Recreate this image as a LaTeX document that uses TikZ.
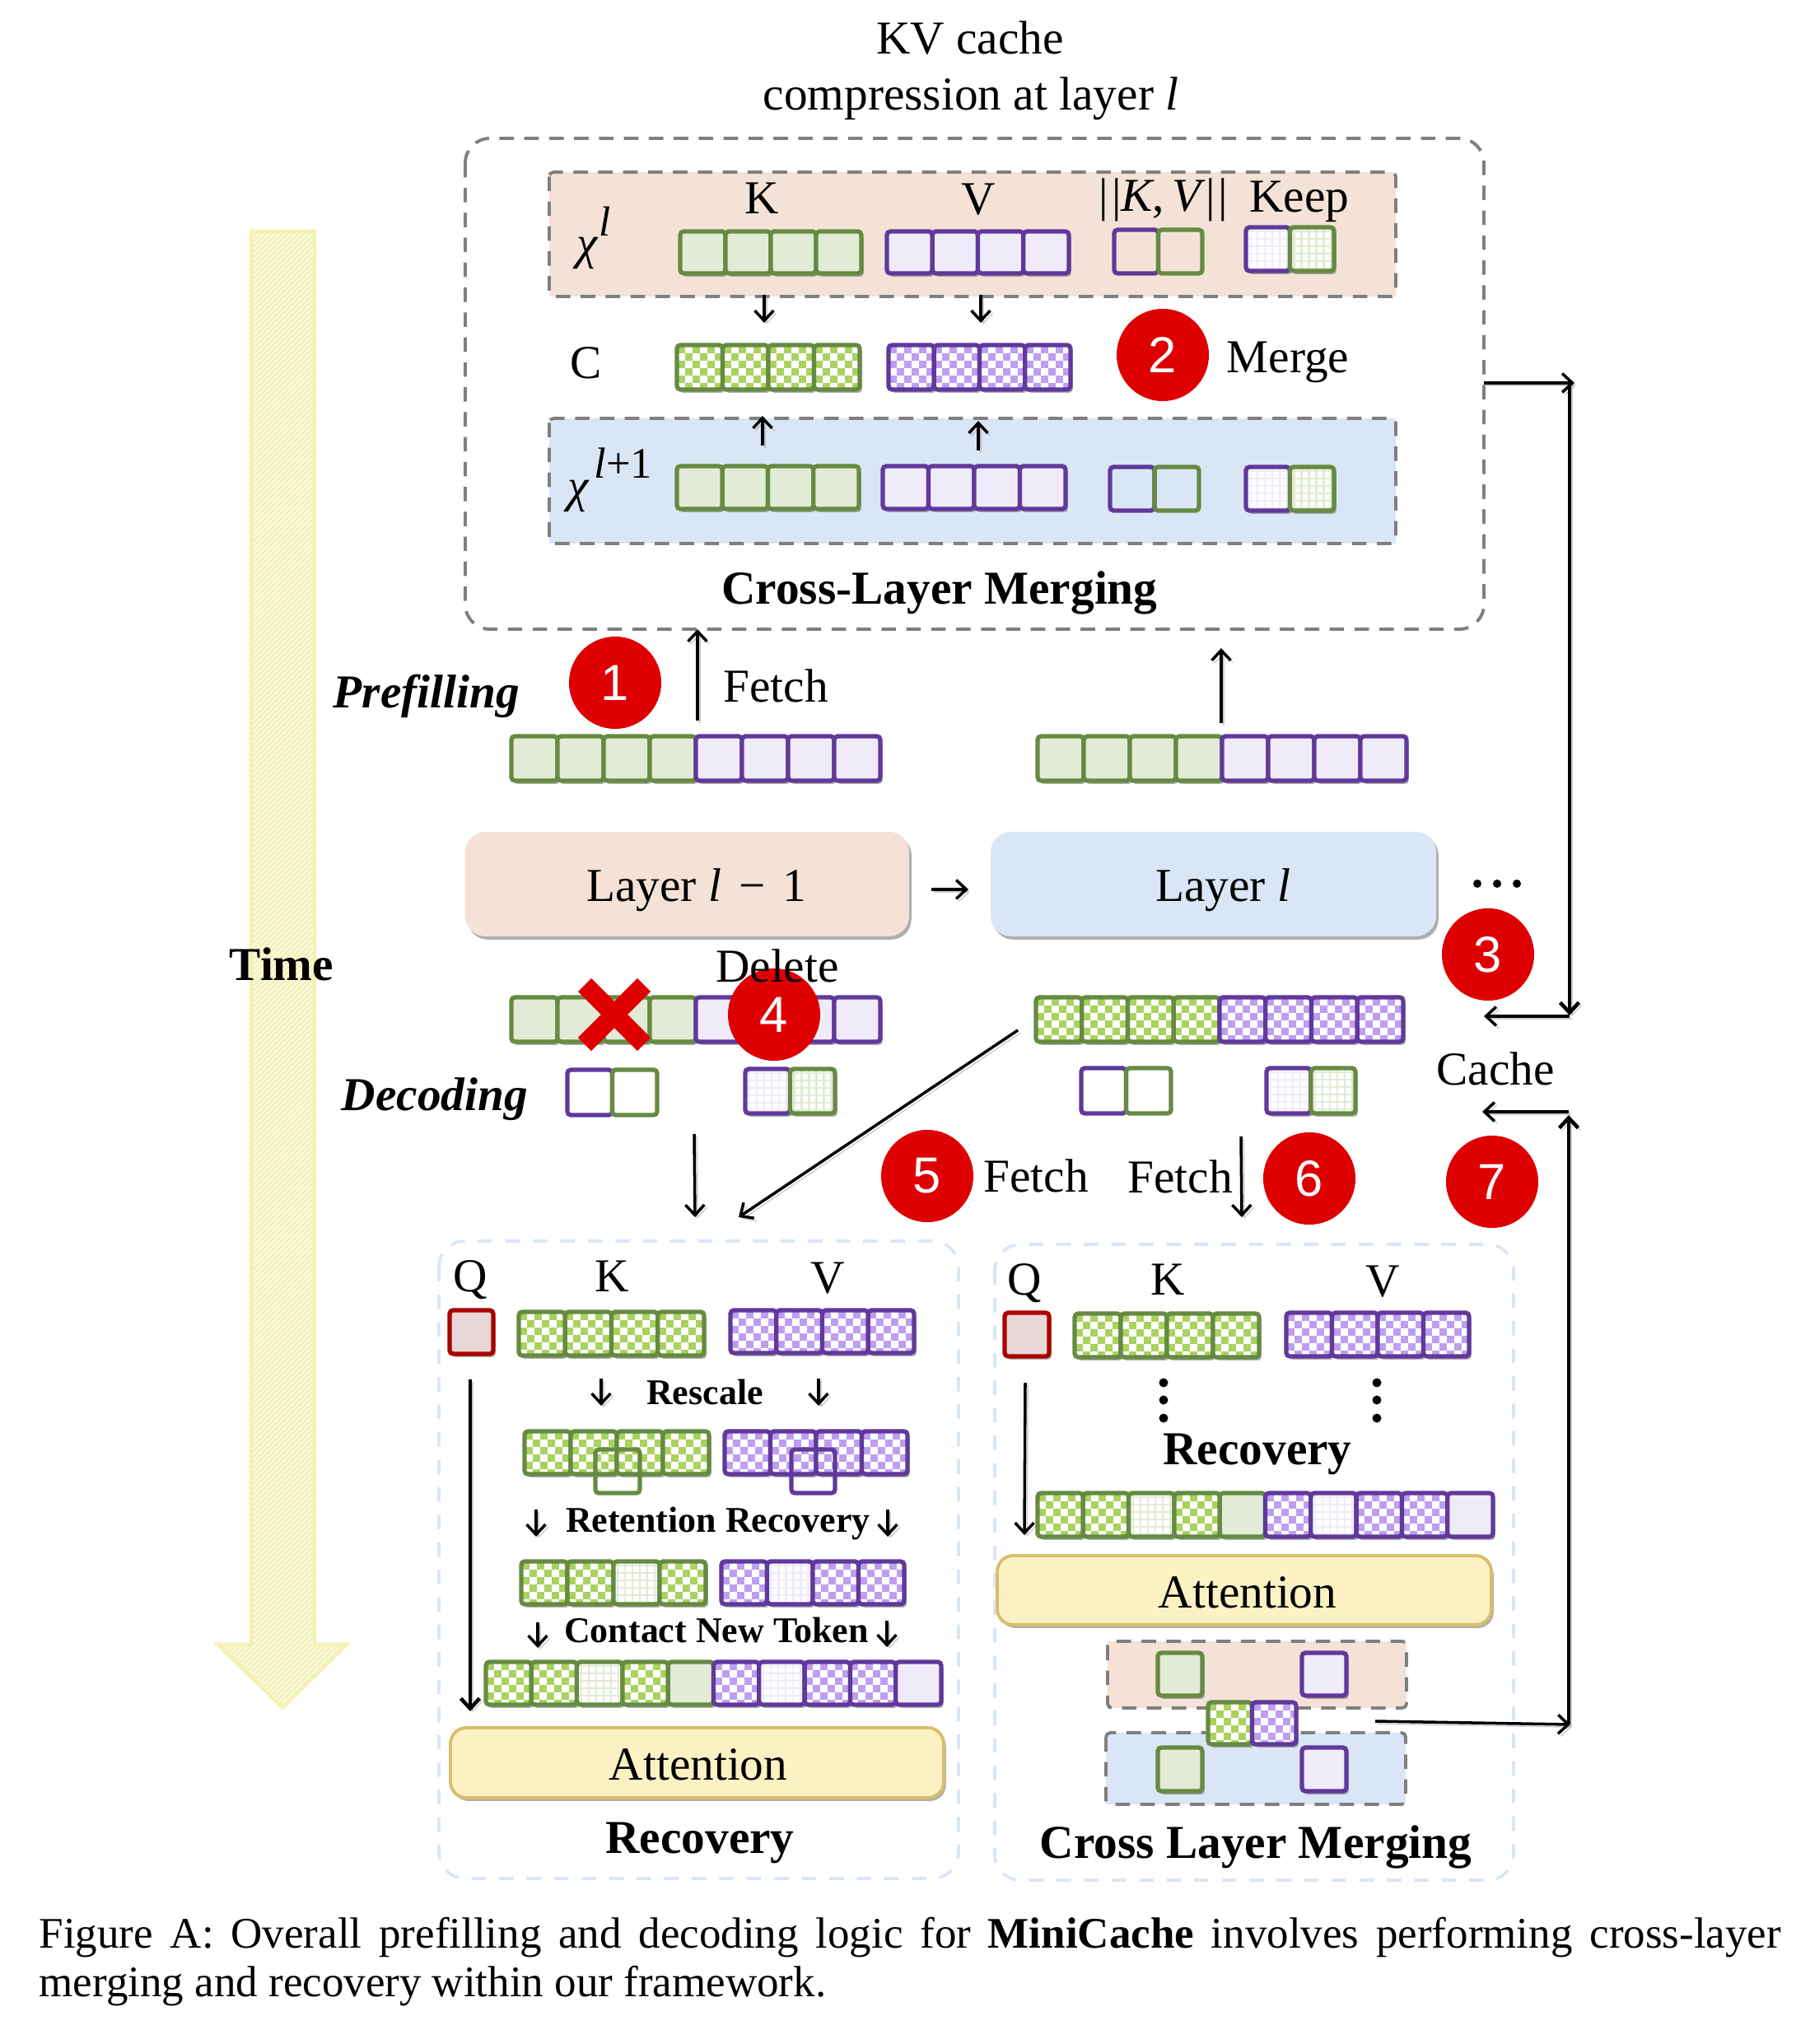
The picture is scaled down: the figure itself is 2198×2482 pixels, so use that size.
\documentclass[tikz,border=0pt]{standalone}
\usepackage{fontspec}
\setmainfont{Liberation Serif}
\newfontfamily\digitfont{Liberation Sans}
\usetikzlibrary{arrows.meta,shadows}
\definecolor{gb}{HTML}{668A42}\definecolor{gf}{HTML}{E2EBD5}\definecolor{gc}{HTML}{A9D25F}
\definecolor{pb}{HTML}{60399B}\definecolor{pf}{HTML}{F0EBF9}\definecolor{pc}{HTML}{BE9EF0}
\definecolor{rb}{HTML}{AA0000}\definecolor{rf}{HTML}{E9D6D6}
\definecolor{peach}{HTML}{F4E2D7}\definecolor{skyb}{HTML}{DAE6F5}
\definecolor{attf}{HTML}{FCF1C3}\definecolor{attb}{HTML}{D7BE6C}
\definecolor{dashg}{HTML}{7F7F7F}\definecolor{dashb}{HTML}{DAE6F5}
\definecolor{timec}{HTML}{F3F2B5}\definecolor{badge}{HTML}{DE0000}
\tikzset{
 x=0.01cm,y=-0.01cm,
 softshadow/.style={drop shadow={shadow xshift=0.8pt,shadow yshift=-1.1pt,opacity=.45,fill=black!70}},
 conn/.style={draw=black,line width=1pt,-{Straight Barb[length=3.5pt,width=6.5pt]},
   preaction={draw=gray,opacity=.4,transform canvas={shift={(0.9pt,-0.9pt)}}}},
 bigdash/.style={draw=dashg,line width=1.1pt,dash pattern=on 5pt off 3.6pt},
 lightdash/.style={draw=dashb,line width=1.05pt,dash pattern=on 5pt off 4.5pt,rounded corners=9pt},
 layerbox/.style={fill=#1,rounded corners=7pt,softshadow},
 attbox/.style={fill=attf,draw=attb,line width=1.1pt,rounded corners=5.5pt,softshadow},
 badgec/.style={circle,fill=badge,text=white,minimum size=1.12cm,inner sep=0pt,font=\digitfont\fontsize{17.5}{20}\selectfont},
 lbl/.style={inner sep=0pt,font=\fontsize{16.3}{19}\selectfont},
 blbl/.style={inner sep=0pt,font=\bfseries\fontsize{16.3}{19}\selectfont},
 slbl/.style={inner sep=0pt,font=\bfseries\fontsize{12.5}{15}\selectfont},
 ilbl/.style={inner sep=0pt,font=\bfseries\itshape\fontsize{16.3}{19}\selectfont},
}
\newcommand\patf[4]{\fill[\kc f] (#1,#2) rectangle (#3,#4);}
\newcommand\patn[4]{}
\newcommand\patc[4]{%
 \begin{scope}\clip (#1,#2) rectangle (#3,#4);
 \fill[white] (#1,#2) rectangle (#3,#4);
 \foreach \ii in {0,...,6}{\foreach \jj in {0,...,6}{%
  \pgfmathtruncatemacro\mm{mod(\ii+\jj,2)}%
  \ifnum\mm=0 \fill[\kc c] ({#1+1+\ii*9},{#2+1+\jj*9}) rectangle +(9,9);\fi}}
 \end{scope}}
\newcommand\patg[4]{%
 \begin{scope}\clip (#1,#2) rectangle (#3,#4);
 \fill[white] (#1,#2) rectangle (#3,#4);
 \foreach \ii in {0,...,6}{\draw[\kc f,line width=0.6pt] ({#1+5+\ii*9},#2) -- ({#1+5+\ii*9},#4);
   \draw[\kc f,line width=0.6pt] (#1,{#2+5+\ii*9}) -- (#3,{#2+5+\ii*9});}
 \end{scope}}
% cell: x0 y0 x1 y1 colourkey pattern
\newcommand\tcell[6]{%
 \def\kc{#5}%
 \path[fill=white,rounded corners=1.2pt,softshadow] (#1,#2) rectangle (#3,#4);
 \csname pat#6\endcsname{#1}{#2}{#3}{#4}%
 \draw[draw=#5b,line width=1.5pt,rounded corners=1.2pt] (#1,#2) rectangle (#3,#4);}
\newcommand\tcelln[6]{%
 \def\kc{#5}%
 \draw[draw=#5b,line width=1.5pt,rounded corners=1.2pt] (#1,#2) rectangle (#3,#4);}
% row: x0 x1 y0 y1 n list
\newcommand\cellrow[6]{%
 \foreach \kkc/\kkp [count=\ci from 0] in {#6}{%
  \pgfmathsetmacro\xa{#1+\ci*(#2-#1)/#5}%
  \pgfmathsetmacro\xb{#1+(\ci+1)*(#2-#1)/#5}%
  \edef\doit{\noexpand\tcell{\xa}{#3}{\xb}{#4}{\kkc}{\kkp}}\doit}}
\newcommand\openrow[6]{%
 \foreach \kkc [count=\ci from 0] in {#6}{%
  \pgfmathsetmacro\xa{#1+\ci*(#2-#1)/#5}%
  \pgfmathsetmacro\xb{#1+(\ci+1)*(#2-#1)/#5}%
  \edef\doit{\noexpand\tcelln{\xa}{#3}{\xb}{#4}{\kkc}{n}}\doit}}
\begin{document}
\begin{tikzpicture}
\useasboundingbox (0,0) rectangle (2198,2482);
\fill[white] (0,0) rectangle (2198,2482);

% Time arrow
\begin{scope}
 \clip (305,281)--(382,281)--(382,1997)--(420,1997)--(343,2073)--(265,1997)--(305,1997)--cycle;
 \foreach \k in {-1800,-1793.5,...,170}{\draw[timec,line width=0.85pt] ({259+\k},2077) -- ({259+\k+1810},267);}
\end{scope}
\draw[timec,line width=1.4pt,line join=miter] (305,281)--(382,281)--(382,1997)--(420,1997)--(343,2073)--(265,1997)--(305,1997)--cycle;
\node[blbl] (time) at (342,1171) {Time};

% Title
\node[lbl] (t1) at (1178,46) {KV cache};
\node[lbl] (t2) at (1179,120) {compression at layer \textit{l}};

% Cross-layer merging panel
\draw[bigdash,rounded corners=8.5pt] (565,168) rectangle (1802,764);
\fill[peach] (667,209) rectangle (1695,360);
\draw[bigdash,rounded corners=1.5pt] (667,209) rectangle (1695,360);
\fill[skyb] (667,508) rectangle (1695,660);
\draw[bigdash,rounded corners=1.5pt] (667,508) rectangle (1695,660);

\node[lbl] (kA) at (925,241) {K};
\node[lbl] (vA) at (1188,242) {V};
\node[lbl] (nA) at (1413,243) {|\kern0.07em|\textit{K},\,\textit{V}|\kern0.07em|};
\node[lbl] (keepA) at (1578,245) {Keep};
\node[lbl] (xA) at (721,289) {\textit{χ}\raisebox{0.5em}{\fontsize{14.5}{14}\selectfont\textit{l}}};
\node[lbl] (cA) at (712,441) {C};
\node[lbl] (xB) at (741,583) {\textit{χ}\raisebox{0.5em}{\fontsize{15}{14}\selectfont\kern0.1em\textit{l}+1}};

\cellrow{826}{1046}{281}{332}{4}{g/f,g/f,g/f,g/f}
\cellrow{1077}{1298}{281}{332}{4}{p/f,p/f,p/f,p/f}
\openrow{1353}{1460}{279}{332}{2}{p,g}
\cellrow{1513}{1620}{276}{329}{2}{p/g,g/g}
\cellrow{822}{1044}{419}{473}{4}{g/c,g/c,g/c,g/c}
\cellrow{1079}{1300}{419}{473}{4}{p/c,p/c,p/c,p/c}
\cellrow{822}{1043}{566}{618}{4}{g/f,g/f,g/f,g/f}
\cellrow{1072}{1294}{566}{618}{4}{p/f,p/f,p/f,p/f}
\openrow{1348}{1456}{567}{620}{2}{p,g}
\cellrow{1513}{1620}{567}{620}{2}{p/g,g/g}

\coordinate (a1s) at (928,358); \coordinate (a1e) at (928,392);
\coordinate (a2s) at (1191,358); \coordinate (a2e) at (1191,392);
\coordinate (a3s) at (926,541); \coordinate (a3e) at (926,505);
\coordinate (a4s) at (1188,547); \coordinate (a4e) at (1188,511);
\draw[conn] (a1s) -- (a1e);
\draw[conn] (a2s) -- (a2e);
\draw[conn] (a3s) -- (a3e);
\draw[conn] (a4s) -- (a4e);
\node[badgec] (b2) at (1412,431) {2};
\node[lbl] (merge) at (1564,440) {Merge};
\node[blbl] (clm) at (1141,720) {Cross-Layer Merging};

% Right-hand loop
\coordinate (r0) at (1802,465); \coordinate (r1) at (1912,465);
\coordinate (r2) at (1906,465); \coordinate (r3) at (1906,1233);
\coordinate (r4) at (1906,1234); \coordinate (r5) at (1802,1234);
\coordinate (r6) at (1905,2094); \coordinate (r7) at (1905,1354);
\coordinate (r8) at (1905,1350); \coordinate (r9) at (1800,1350);
\coordinate (r10) at (1670,2090); \coordinate (r11) at (1907,2094);
\draw[conn] (r0) -- (r1);
\draw[conn,line width=1.3pt] (r2) -- (r3);
\draw[conn] (r4) -- (r5);
\draw[conn,line width=1.3pt] (r6) -- (r7);
\draw[conn] (r8) -- (r9);

% Prefilling
\node[ilbl] (pref) at (518,845) {Prefilling};
\node[badgec] (b1) at (747,829) {1};
\coordinate (f1s) at (847,875); \coordinate (f1e) at (847,764);
\coordinate (f2s) at (1483,878); \coordinate (f2e) at (1483,787);
\draw[conn] (f1s) -- (f1e);
\draw[conn] (f2s) -- (f2e);
\node[lbl] (fetch1) at (942,833) {Fetch};
\cellrow{621}{1069}{894}{948}{8}{g/f,g/f,g/f,g/f,p/f,p/f,p/f,p/f}
\cellrow{1260}{1708}{894}{948}{8}{g/f,g/f,g/f,g/f,p/f,p/f,p/f,p/f}

% Layers
\path[layerbox=peach] (565,1010) rectangle (1104,1137);
\path[layerbox=skyb] (1203,1010) rectangle (1744,1137);
\node[lbl] (L1) at (846,1081) {Layer \textit{l}\kern0.12em\ −\kern0.12em\ 1};
\node[lbl] (L2) at (1485,1081) {Layer \textit{l}};
\coordinate (ls) at (1131,1080); \coordinate (le) at (1176,1080);
\draw[conn] (ls) -- (le);
\foreach \dx in {1794,1818,1842}{\fill[black] (\dx,1073) circle (5);}
\node[badgec] (b3) at (1807,1159) {3};
\node[lbl] (cache) at (1816,1298) {Cache};

% Decoding
\cellrow{621}{1069}{1211}{1265}{8}{g/f,g/f,g/f,g/f,p/f,p/f,p/f,p/f}
\cellrow{1258}{1704}{1211}{1265}{8}{g/c,g/c,g/c,g/c,p/c,p/c,p/c,p/c}
\draw[badge,line width=6.5pt] (710,1196) -- (782,1268);
\draw[badge,line width=6.5pt] (782,1196) -- (710,1268);
\node[badgec] (b4) at (940,1232) {4};
\node[lbl] (del) at (944,1173) {Delete};
\openrow{689}{798}{1299}{1354}{2}{p,g}
\cellrow{905}{1014}{1298}{1352}{2}{p/g,g/g}
\openrow{1313}{1422}{1297}{1352}{2}{p,g}
\cellrow{1538}{1646}{1297}{1352}{2}{p/g,g/g}
\node[ilbl] (dec) at (528,1335) {Decoding};

\coordinate (d1s) at (843,1377); \coordinate (d1e) at (844,1478);
\coordinate (d2s) at (1236,1251); \coordinate (d2e) at (897,1478);
\coordinate (d3s) at (1507,1380); \coordinate (d3e) at (1508,1478);
\draw[conn] (d1s) -- (d1e);
\draw[conn] (d2s) -- (d2e);
\draw[conn] (d3s) -- (d3e);
\node[badgec] (b5) at (1126,1428) {5};
\node[lbl] (fetch5) at (1258,1428) {Fetch};
\node[lbl] (fetch6) at (1433,1429) {Fetch};
\node[badgec] (b6) at (1590,1431) {6};
\node[badgec] (b7) at (1812,1435) {7};

% Recovery panel
\draw[lightdash] (533,1507) rectangle (1164,2281);
\node[lbl] (q1) at (571,1554) {Q};
\node[lbl] (k1) at (743,1550) {K};
\node[lbl] (v1) at (1005,1552) {V};
\tcell{546}{1591}{599}{1644}{r}{f}
\cellrow{630}{855}{1593}{1646}{4}{g/c,g/c,g/c,g/c}
\cellrow{887}{1110}{1591}{1643}{4}{p/c,p/c,p/c,p/c}
\coordinate (ra1s) at (730,1674); \coordinate (ra1e) at (730,1707);
\coordinate (ra2s) at (994,1674); \coordinate (ra2e) at (994,1707);
\draw[conn] (ra1s) -- (ra1e);
\draw[conn] (ra2s) -- (ra2e);
\node[slbl] (resc) at (856,1690) {Rescale};
\cellrow{637}{861}{1738}{1790}{4}{g/c,g/c,g/c,g/c}
\cellrow{880}{1102}{1738}{1790}{4}{p/c,p/c,p/c,p/c}
\openrow{723}{777}{1760}{1813}{1}{g}
\openrow{961}{1014}{1760}{1813}{1}{p}
\coordinate (ra3s) at (651,1833); \coordinate (ra3e) at (651,1866);
\coordinate (ra4s) at (1078,1833); \coordinate (ra4e) at (1078,1866);
\draw[conn] (ra3s) -- (ra3e);
\draw[conn] (ra4s) -- (ra4e);
\node[slbl] (ret) at (872,1850) {Retention Recovery};
\cellrow{633}{857}{1896}{1948}{4}{g/c,g/c,g/g,g/c}
\cellrow{876}{1098}{1896}{1948}{4}{p/c,p/g,p/c,p/c}
\coordinate (ra5s) at (653,1970); \coordinate (ra5e) at (653,2001);
\coordinate (ra6s) at (1077,1968); \coordinate (ra6e) at (1077,2000);
\draw[conn] (ra5s) -- (ra5e);
\draw[conn] (ra6s) -- (ra6e);
\node[slbl] (con) at (870,1979) {Contact New Token};
\cellrow{590}{1143}{2018}{2070}{10}{g/c,g/c,g/g,g/c,g/f,p/c,p/g,p/c,p/c,p/f}
\coordinate (qa1s) at (571,1675); \coordinate (qa1e) at (571,2078);
\draw[conn,line width=1.3pt] (qa1s) -- (qa1e);
\path[attbox] (547,2098) rectangle (1146,2183);
\node[lbl] (att1) at (848,2143) {Attention};
\node[blbl] (rec1) at (850,2238) {Recovery};

% Cross layer merging panel (decoding)
\draw[lightdash] (1208,1511) rectangle (1838,2283);
\node[lbl] (q2) at (1244,1558) {Q};
\node[lbl] (k2) at (1418,1554) {K};
\node[lbl] (v2) at (1679,1556) {V};
\tcell{1220}{1594}{1274}{1647}{r}{f}
\cellrow{1305}{1529}{1595}{1648}{4}{g/c,g/c,g/c,g/c}
\cellrow{1562}{1784}{1594}{1647}{4}{p/c,p/c,p/c,p/c}
\foreach \dy in {1679,1700,1722}{\fill[black] (1413,\dy) circle (5.5); \fill[black] (1672,\dy) circle (5.5);}
\node[blbl] (rec2) at (1527,1766) {Recovery};
\cellrow{1260}{1813}{1813}{1866}{10}{g/c,g/c,g/g,g/c,g/f,p/c,p/g,p/c,p/c,p/f}
\coordinate (qa2s) at (1245,1679); \coordinate (qa2e) at (1244,1864);
\draw[conn] (qa2s) -- (qa2e);
\path[attbox] (1211,1889) rectangle (1811,1973);
\node[lbl] (att2) at (1515,1934) {Attention};
\fill[peach] (1345,1993) rectangle (1708,2074);
\draw[bigdash,rounded corners=1.5pt] (1345,1993) rectangle (1708,2074);
\fill[skyb] (1343,2104) rectangle (1707,2191);
\draw[bigdash,rounded corners=1.5pt] (1343,2104) rectangle (1707,2191);
\tcell{1406}{2007}{1460}{2059}{g}{f}
\tcell{1581}{2007}{1635}{2059}{p}{f}
\tcell{1406}{2122}{1460}{2175}{g}{f}
\tcell{1581}{2122}{1635}{2175}{p}{f}
\cellrow{1467}{1574}{2067}{2118}{2}{g/c,p/c}
\draw[conn] (r10) -- (r11);
\node[blbl] (clm2) at (1525,2243) {Cross Layer Merging};

% Caption
\node[anchor=west,inner sep=0pt,font=\fontsize{15.07}{18}\selectfont] (cap1) at (47,2353)
 {\makebox[21.14cm][s]{Figure A: Overall prefilling and decoding logic for \textbf{MiniCache} involves performing cross-layer}};
\node[anchor=west,inner sep=0pt,font=\fontsize{15.07}{18}\selectfont] (cap2) at (47,2412)
 {merging and recovery within our framework.};
\end{tikzpicture}
\end{document}
